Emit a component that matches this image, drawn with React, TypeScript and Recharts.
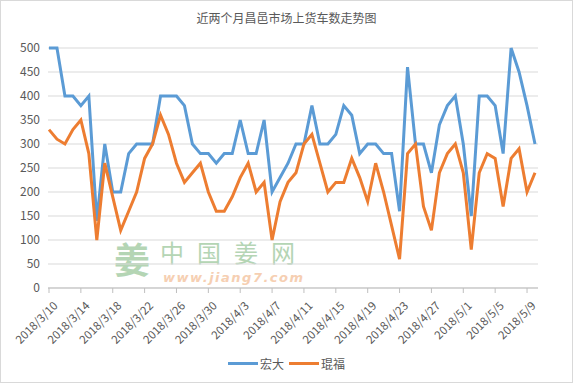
import React from 'react';
import { LineChart, Line, XAxis, YAxis, CartesianGrid, Legend } from 'recharts';

const dates: string[] = [
  '2018/3/10', '2018/3/11', '2018/3/12', '2018/3/13', '2018/3/14', '2018/3/15', '2018/3/16', '2018/3/17', '2018/3/18', '2018/3/19',
  '2018/3/20', '2018/3/21', '2018/3/22', '2018/3/23', '2018/3/24', '2018/3/25', '2018/3/26', '2018/3/27', '2018/3/28', '2018/3/29',
  '2018/3/30', '2018/3/31', '2018/4/1', '2018/4/2', '2018/4/3', '2018/4/4', '2018/4/5', '2018/4/6', '2018/4/7', '2018/4/8',
  '2018/4/9', '2018/4/10', '2018/4/11', '2018/4/12', '2018/4/13', '2018/4/14', '2018/4/15', '2018/4/16', '2018/4/17', '2018/4/18',
  '2018/4/19', '2018/4/20', '2018/4/21', '2018/4/22', '2018/4/23', '2018/4/24', '2018/4/25', '2018/4/26', '2018/4/27', '2018/4/28',
  '2018/4/29', '2018/4/30', '2018/5/1', '2018/5/2', '2018/5/3', '2018/5/4', '2018/5/5', '2018/5/6', '2018/5/7', '2018/5/8',
  '2018/5/9', '2018/5/10',
];

const hongda: number[] = [
  500, 500, 400, 400, 380, 400, 140, 300, 200, 200,
  280, 300, 300, 300, 400, 400, 400, 380, 300, 280,
  280, 260, 280, 280, 350, 280, 280, 350, 200, 230,
  260, 300, 300, 380, 300, 300, 320, 380, 360, 280,
  300, 300, 280, 280, 160, 460, 300, 300, 240, 340,
  380, 400, 300, 150, 400, 400, 380, 280, 500, 450,
  380, 300,
];

const kunfu: number[] = [
  330, 310, 300, 330, 350, 280, 100, 260, 190, 120,
  160, 200, 270, 300, 360, 320, 260, 220, 240, 260,
  200, 160, 160, 190, 230, 260, 200, 220, 100, 180,
  220, 240, 300, 320, 260, 200, 220, 220, 270, 230,
  180, 260, 200, 130, 60, 280, 300, 170, 120, 240,
  280, 300, 240, 80, 240, 280, 270, 170, 270, 290,
  200, 240,
];

const yTicks: number[] = [0, 50, 100, 150, 200, 250, 300, 350, 400, 450, 500];

const seriesNames = { hongda: '宏大', kunfu: '琨福' };
const colors = { hongda: '#5b9bd5', kunfu: '#ed7d31' };

const data = dates.map((d, i) => ({ date: d, hongda: hongda[i], kunfu: kunfu[i] }));

const FONT = '"Noto Sans CJK SC", "Noto Sans", sans-serif';
const TEXT = '#595959';

const XTick = (props: any) => {
  const { x, y, payload } = props;
  const ax = x + 6;
  const ay = y + 8;
  return (
    <text
      x={ax}
      y={ay}
      transform={`rotate(-45, ${ax}, ${ay})`}
      textAnchor="end"
      dominantBaseline="central"
      fontSize={11.5}
      fill={TEXT}
      fontFamily={FONT}
    >
      {payload.value}
    </text>
  );
};

const LegendContent = () => (
  <div style={{ display: 'flex', justifyContent: 'center', alignItems: 'center', fontFamily: FONT, fontSize: 12, color: TEXT }}>
    {(['hongda', 'kunfu'] as const).map((k, i) => (
      <div key={k} style={{ display: 'flex', alignItems: 'center', marginLeft: i === 0 ? 0 : 5 }}>
        <div style={{ width: 30, height: 3, background: colors[k], marginRight: 2 }} />
        <span>{seriesNames[k]}</span>
      </div>
    ))}
  </div>
);

export default function App() {
  return (
    <div style={{ position: 'absolute', left: 0, top: 0, width: 573, height: 383, background: '#fff', overflow: 'hidden' }}>
      <div
        style={{
          position: 'absolute', left: 0, top: 9, width: 573, textAlign: 'center',
          fontFamily: FONT, fontSize: 12, color: TEXT, lineHeight: '18px',
        }}
      >
        近两个月昌邑市场上货车数走势图
      </div>
      <div style={{ position: 'absolute', left: 114, top: 238, fontFamily: FONT, fontSize: 36, fontWeight: 700, color: '#9cc79c', opacity: 0.75, lineHeight: '40px' }}>
        姜
      </div>
      <div style={{ position: 'absolute', left: 160, top: 240, fontFamily: FONT, fontSize: 24, color: '#9cc79c', opacity: 0.75, letterSpacing: 13, lineHeight: '24px', whiteSpace: 'nowrap' }}>
        中国姜网
      </div>
      <div style={{ position: 'absolute', left: 163, top: 272, fontFamily: '"DejaVu Sans", sans-serif', fontSize: 13, fontStyle: 'italic', fontWeight: 700, color: '#f4c4a0', opacity: 0.8, letterSpacing: 1.5, lineHeight: '12px', whiteSpace: 'nowrap' }}>
        www.jiang7.com
      </div>
      <LineChart width={573} height={383} data={data} margin={{ top: 48, right: 35, left: 0, bottom: 0 }}>
        <CartesianGrid vertical={false} stroke="#d9d9d9" />
        <XAxis
          dataKey="date"
          interval={3}
          height={95}
          tick={<XTick />}
          tickLine={{ stroke: '#bfbfbf' }}
          axisLine={{ stroke: '#bfbfbf' }}
          tickSize={5}
          padding={{ left: 1, right: 3 }}
        />
        <YAxis
          width={48}
          domain={[0, 500]}
          ticks={yTicks}
          axisLine={false}
          tickLine={false}
          tick={{ fontSize: 12, fill: TEXT, fontFamily: FONT }}
        />
        <Legend
          layout="horizontal"
          verticalAlign="middle"
          align="center"
          content={<LegendContent />}
          wrapperStyle={{ top: 355, left: 0, width: 573 }}
        />
        <Line type="linear" dataKey="hongda" name={seriesNames.hongda} stroke={colors.hongda} strokeWidth={3} dot={false} isAnimationActive={false} />
        <Line type="linear" dataKey="kunfu" name={seriesNames.kunfu} stroke={colors.kunfu} strokeWidth={3} dot={false} isAnimationActive={false} />
      </LineChart>
      <div style={{ position: 'absolute', left: 0, top: 0, width: 573, height: 383, boxSizing: 'border-box', border: '1px solid #d9d9d9', pointerEvents: 'none' }} />
    </div>
  );
}
